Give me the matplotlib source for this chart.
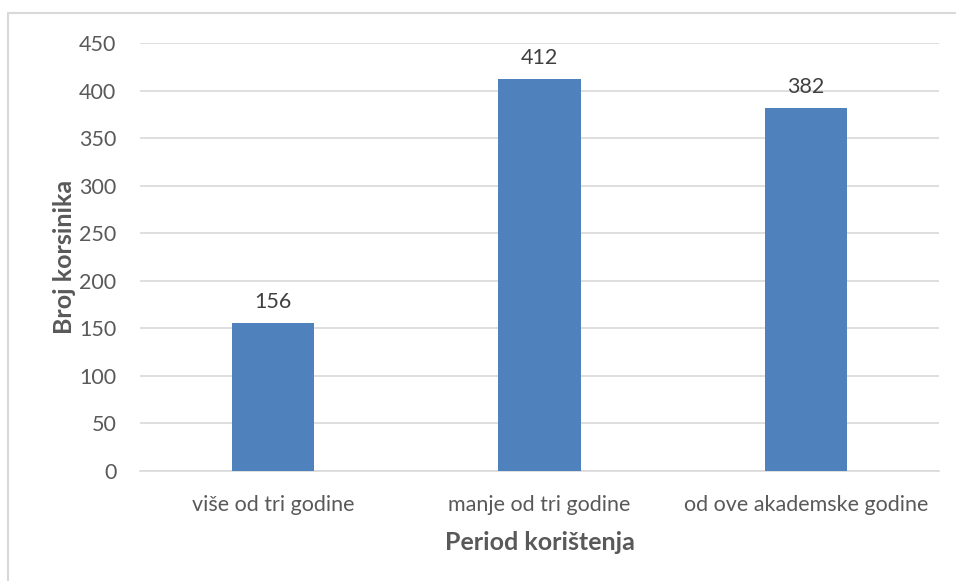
import matplotlib
matplotlib.use("Agg")
import matplotlib.pyplot as plt
from matplotlib.patches import Rectangle

categories = ["više od tri godine", "manje od tri godine", "od ove akademske godine"]
values = [156, 412, 382]
yticks = [0, 50, 100, 150, 200, 250, 300, 350, 400, 450]

plt.rcParams['font.family'] = ['Lato', 'DejaVu Sans']
W, H = 956, 581
fig = plt.figure(figsize=(W/100, H/100), dpi=100)
ax = fig.add_axes([140/W, 1-471/H, (939-140)/W, (471-43)/H])

x = list(range(len(categories)))
bars = ax.bar(x, values, width=0.31, color="#4F81BD", zorder=3)
for xi, v in zip(x, values):
    ax.annotate(str(v), (xi, v), xytext=(0, 8), textcoords="offset points",
                ha="center", va="bottom", fontsize=15.5, color="#404040")

ax.set_xlim(-0.5, 2.5)
ax.set_ylim(0, 450)
ax.set_yticks(yticks)
ax.set_xticks(x)
ax.set_xticklabels(categories)
ax.grid(axis="y", color="#D9D9D9", linewidth=1.2, zorder=0)
for s in ["top", "right", "left"]:
    ax.spines[s].set_visible(False)
ax.spines["bottom"].set_color("#D9D9D9")
ax.spines["bottom"].set_linewidth(1.2)
ax.tick_params(axis="both", length=0, labelsize=15.5, labelcolor="#595959")
ax.tick_params(axis="y", pad=17)
ax.tick_params(axis="x", pad=17)
ax.set_ylabel("Broj korsinika", fontsize=18, fontweight="bold", color="#595959", labelpad=2)
ax.set_xlabel("Period korištenja", fontsize=18, fontweight="bold", color="#595959", labelpad=12)

fig.add_artist(Rectangle((8/W, -0.05), 2.0, 1.05 - 13/H, transform=fig.transFigure,
                         fill=False, edgecolor="#D9D9D9", linewidth=1.5))

fig.savefig("out.png", dpi=100)
